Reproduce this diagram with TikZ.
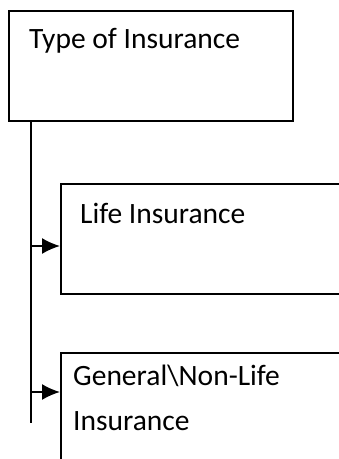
\documentclass[tikz,border=0pt]{standalone}
\usepackage{fontspec}
\setmainfont{Carlito}
\usetikzlibrary{arrows.meta,positioning}
\tikzset{
  box/.style={draw,line width=2pt,inner sep=0pt,anchor=north west},
  branch/.style={-{Latex[length=18pt,width=16pt]},line width=1.8pt},
}

\begin{document}
\begin{tikzpicture}[x=1pt,y=1pt,font=\fontsize{29.5}{45}\selectfont]
  \clip (0,0) rectangle (339,-459);
  \node[box,minimum width=284pt,minimum height=110pt] (type) at (8,-10) {};
  \node[box,minimum width=300pt,minimum height=110pt] (life) at (60,-183) {};
  \node[box,minimum width=300pt,minimum height=130pt] (general) at (60,-352) {};
  \node[anchor=base west,inner sep=0pt] (typetext) at (29,-48) {Type of Insurance};
  \node[anchor=base west,inner sep=0pt] (lifetext) at (80,-223) {Life Insurance};
  \node[anchor=base west,inner sep=0pt,align=left] (gentext) at (73,-430)
    {General\textbackslash Non-Life\\Insurance};
  \coordinate (trunk) at (31,-423);
  \coordinate (j1) at (31,-246);
  \coordinate (j2) at (31,-392);
  \draw[line width=1.8pt] (type.south -| trunk) -- (trunk);
  \draw[branch] (j1) -- (j1 -| life.west);
  \draw[branch] (j2) -- (j2 -| general.west);
\end{tikzpicture}
\end{document}
